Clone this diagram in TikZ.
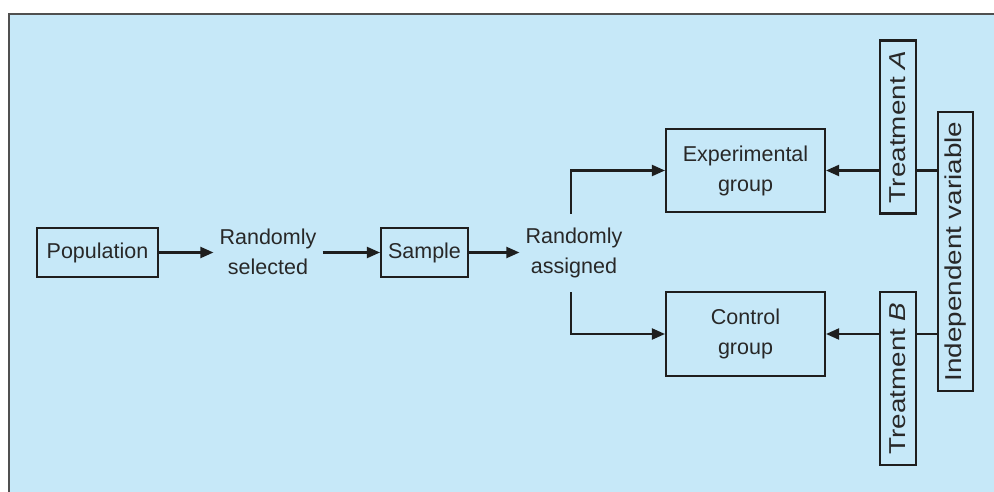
\documentclass[tikz,border=0pt]{standalone}
\usepackage{fontspec}
\setmainfont{Liberation Sans}
\usetikzlibrary{arrows.meta}
\definecolor{bgblue}{RGB}{198,232,248}
\definecolor{ink}{RGB}{30,30,30}
\definecolor{txt}{RGB}{40,40,40}
\definecolor{frame}{RGB}{80,80,80}
\begin{document}
\begin{tikzpicture}[x=1pt,y=-1pt,
  box/.style={draw=ink,line width=2.1pt,rectangle,inner sep=0pt,text=txt,align=center,font=\fontsize{21.5}{30}\selectfont},
  lbl/.style={inner sep=6pt,text=txt,align=center,font=\fontsize{21.5}{30}\selectfont},
  vbox/.style={draw=ink,line width=2.1pt,rectangle,inner sep=0pt,text=txt,font=\fontsize{23}{28}\selectfont},
  conn/.style={draw=ink,line width=2.1pt},
  arr/.style={conn,-{Triangle[length=13pt,width=11pt]}}]
\useasboundingbox (0,0) rectangle (994,492);
\fill[white] (0,0) rectangle (994,492);
\fill[bgblue] (9,14) rectangle (1010,510);
\draw[frame,line width=2.4pt] (9,510) -- (9,14) -- (1010,14);

\node[box,minimum width=121pt,minimum height=49pt] (pop) at (97.5,252.5) {Population};
\node[lbl] (rs) at (268,252) {Randomly\\selected};
\node[box,minimum width=87pt,minimum height=49pt] (sample) at (424.5,252.5) {Sample};
\node[lbl] (ra) at (574,253) {Randomly\\assigned};
\node[box,minimum width=159pt,minimum height=83pt] (exp) at (745.5,170.5) {Experimental\\group};
\node[box,minimum width=159pt,minimum height=84pt] (ctrl) at (745.5,334) {Control\\group};
\node[vbox,minimum width=36pt,minimum height=173pt] (ta) at (898,127) {\rotatebox{90}{\scalebox{1.21}[1]{Treatment \textit{A}}}};
\node[vbox,minimum width=36pt,minimum height=173pt] (tb) at (898,378.5) {\rotatebox{90}{\scalebox{1.21}[1]{Treatment \textit{B}}}};
\node[vbox,minimum width=35pt,minimum height=279pt] (iv) at (955.5,251.5) {\rotatebox{90}{\scalebox{1.21}[1]{Independent variable}}};

\draw[arr] (pop.east) -- (rs.west |- pop.east);
\draw[arr] (rs.east |- sample.west) -- (sample.west);
\draw[arr] (sample.east) -- (ra.west |- sample.east);
\draw[arr] ([xshift=-3pt,yshift=8pt]ra.north) |- (exp.west);
\draw[arr] ([xshift=-3pt,yshift=-8pt]ra.south) |- (ctrl.west);
\draw[arr] (ta.west |- exp.east) -- (exp.east);
\draw[arr] (tb.west |- ctrl.east) -- (ctrl.east);
\draw[conn] (iv.west |- exp.east) -- (ta.east |- exp.east);
\draw[conn] (iv.west |- ctrl.east) -- (tb.east |- ctrl.east);
\end{tikzpicture}
\end{document}
